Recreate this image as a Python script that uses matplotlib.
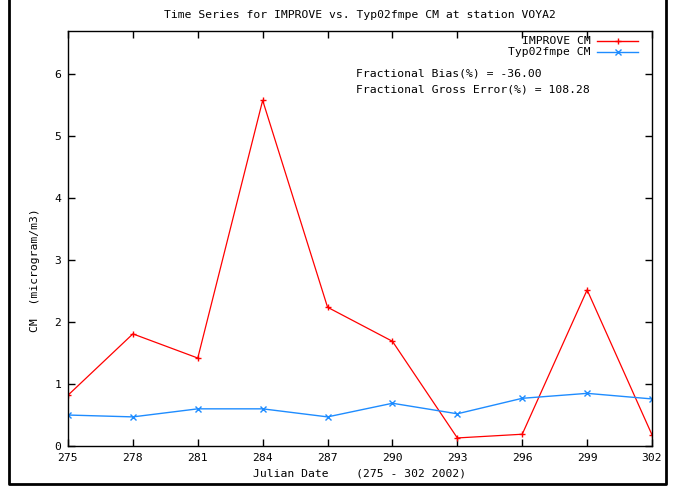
import matplotlib
matplotlib.use("Agg")
import matplotlib.pyplot as plt
from matplotlib.lines import Line2D

days = [275, 278, 281, 284, 287, 290, 293, 296, 299, 302]
improve_cm = [0.82, 1.81, 1.42, 5.58, 2.24, 1.69, 0.13, 0.19, 2.52, 0.18]
typ02fmpe_cm = [0.50, 0.47, 0.60, 0.60, 0.47, 0.69, 0.52, 0.77, 0.85, 0.76]
x_ticks = [275, 278, 281, 284, 287, 290, 293, 296, 299, 302]
y_ticks = [0, 1, 2, 3, 4, 5, 6]

plt.rcParams['font.family'] = ['DejaVu Sans Mono']
FS = 8.2

W, H = 673, 487
fig = plt.figure(figsize=(W / 100, H / 100), dpi=100)
fig.patch.set_facecolor('white')

# plot area in pixel coordinates
left, right, top, bottom = 68, 652, 31, 446
ax = fig.add_axes([left / W, 1 - bottom / H, (right - left) / W, (bottom - top) / H])

red = '#ff0000'
blue = '#1e8cff'
ax.plot(days, improve_cm, color=red, lw=0.9, marker='+', ms=5, mew=1.0,
        label='IMPROVE CM')
ax.plot(days, typ02fmpe_cm, color=blue, lw=1.0, marker='x', ms=4, mew=1.0,
        label='Typ02fmpe CM')

ax.set_xlim(275, 302)
ax.set_ylim(0, 6.7)
ax.set_xticks(x_ticks)
ax.set_yticks(y_ticks)
ax.tick_params(direction='in', length=5, width=1, labelsize=FS,
               top=True, right=True, pad=5)
for s in ax.spines.values():
    s.set_linewidth(1.0)

ax.set_xlabel('Julian Date    (275 - 302 2002)', fontsize=FS, labelpad=4)
fig.text(35 / W, 1 - 270 / H, 'CM  (microgram/m3)', rotation=90,
         fontsize=FS, ha='center', va='center')
fig.text(360 / W, 1 - 15 / H, 'Time Series for IMPROVE vs. Typ02fmpe CM at station VOYA2',
         fontsize=FS, ha='center', va='center')

# legend drawn in the gnuplot style, text right-aligned next to sample line
for i, (lab, col, mk, ms) in enumerate([('IMPROVE CM', red, '+', 5),
                                        ('Typ02fmpe CM', blue, 'x', 4)]):
    yy = 1 - (41 + 11 * i) / H
    fig.text(591 / W, yy, lab, fontsize=FS, ha='right', va='center')
    fig.add_artist(Line2D([597 / W, 638 / W], [yy, yy], color=col, lw=1.0,
                          transform=fig.transFigure))
    fig.add_artist(Line2D([617.5 / W], [yy], color=col, marker=mk, ms=ms, mew=1.0,
                          transform=fig.transFigure))

fig.text(356 / W, 1 - 73 / H, 'Fractional Bias(%) = -36.00', fontsize=FS,
         ha='left', va='center')
fig.text(356 / W, 1 - 90 / H, 'Fractional Gross Error(%) = 108.28', fontsize=FS,
         ha='left', va='center')

# outer frame (left, bottom, right)
fx = [9 / W, 9 / W, 666 / W, 666 / W]
fy = [1.0, 1 - 484 / H, 1 - 484 / H, 1.0]
fig.add_artist(Line2D(fx, fy, color='black', lw=2, transform=fig.transFigure))

fig.savefig('out.png', dpi=100)
